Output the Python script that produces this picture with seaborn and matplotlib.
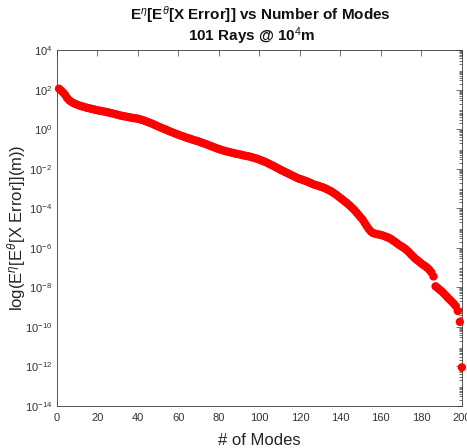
import numpy as np
import pandas as pd
import matplotlib
matplotlib.use("Agg")
import matplotlib.pyplot as plt
import seaborn as sns
from matplotlib.ticker import LogLocator, FixedLocator, NullFormatter

sns.set_style("white")
plt.rcParams['font.family'] = ['Liberation Sans', 'DejaVu Sans']
plt.rcParams['mathtext.fontset'] = 'custom'
plt.rcParams['mathtext.rm'] = 'Liberation Sans'
plt.rcParams['mathtext.it'] = 'Liberation Sans:italic'
plt.rcParams['mathtext.bf'] = 'Liberation Sans:bold'

# ---- data (log10 of error) ----
modes = list(range(1, 201))
log_error = [
    2.05, 1.96, 1.86, 1.74, 1.58, 1.47, 1.39, 1.33, 1.28, 1.24,
    1.20, 1.17, 1.14, 1.11, 1.08, 1.06, 1.03, 1.01, 0.98, 0.96,
    0.94, 0.92, 0.90, 0.88, 0.86, 0.83, 0.81, 0.78, 0.76, 0.73,
    0.70, 0.68, 0.66, 0.64, 0.62, 0.60, 0.58, 0.56, 0.55, 0.53,
    0.50, 0.47, 0.44, 0.40, 0.36, 0.32, 0.28, 0.23, 0.19, 0.14,
    0.10, 0.05, 0.01, -0.03, -0.08, -0.12, -0.16, -0.20, -0.24, -0.28,
    -0.32, -0.35, -0.39, -0.43, -0.46, -0.49, -0.53, -0.56, -0.59, -0.62,
    -0.66, -0.70, -0.73, -0.77, -0.81, -0.85, -0.89, -0.93, -0.97, -1.00,
    -1.04, -1.07, -1.10, -1.13, -1.15, -1.18, -1.20, -1.23, -1.25, -1.27,
    -1.29, -1.32, -1.34, -1.36, -1.38, -1.41, -1.44, -1.47, -1.50, -1.54,
    -1.58, -1.62, -1.66, -1.71, -1.76, -1.81, -1.86, -1.92, -1.97, -2.03,
    -2.08, -2.13, -2.18, -2.23, -2.28, -2.33, -2.38, -2.43, -2.48, -2.52,
    -2.55, -2.59, -2.62, -2.67, -2.71, -2.76, -2.80, -2.83, -2.86, -2.90,
    -2.93, -2.97, -3.02, -3.07, -3.12, -3.18, -3.25, -3.32, -3.40, -3.48,
    -3.56, -3.64, -3.72, -3.81, -3.90, -4.00, -4.10, -4.22, -4.34, -4.46,
    -4.58, -4.74, -4.90, -5.05, -5.17, -5.25, -5.28, -5.31, -5.33, -5.35,
    -5.38, -5.42, -5.46, -5.50, -5.56, -5.63, -5.70, -5.78, -5.85, -5.92,
    -5.98, -6.05, -6.14, -6.24, -6.35, -6.45, -6.55, -6.63, -6.71, -6.80,
    -6.87, -6.94, -7.02, -7.12, -7.25, -7.45, -7.95, -8.03, -8.12, -8.20,
    -8.30, -8.41, -8.52, -8.62, -8.72, -8.83, -8.95, -9.20, -9.75, -12.05,
]
x_ticks = [0, 20, 40, 60, 80, 100, 120, 140, 160, 180, 200]
y_tick_exps = list(range(-14, 5, 2))
title_line1 = "E$^{\\eta}$[E$^{\\theta}$[X Error]] vs Number of Modes"
title_line2 = "101 Rays @ 10$^4$m"

df = pd.DataFrame({"modes": modes, "error": [10.0 ** v for v in log_error]})

fig = plt.figure(figsize=(4.67, 4.48), dpi=100)
ax = fig.add_axes([0.122, 0.094, 0.867, 0.794])

sns.scatterplot(data=df, x="modes", y="error", ax=ax, color="#ff0000",
                s=36, linewidth=0, edgecolor="none", clip_on=False, zorder=3)

ax.set_yscale("log")
ax.set_xlim(0, 200)
ax.set_ylim(1e-14, 1e4)
ax.xaxis.set_major_locator(FixedLocator(x_ticks))
ax.yaxis.set_major_locator(FixedLocator([10.0 ** e for e in y_tick_exps]))
ax.yaxis.set_minor_locator(LogLocator(base=10, subs=np.arange(2, 10), numticks=100))
ax.yaxis.set_minor_formatter(NullFormatter())

axcol = "#3a3a3a"
for sp in ax.spines.values():
    sp.set_visible(True)
    sp.set_color(axcol)
    sp.set_linewidth(0.6)
ax.tick_params(axis="both", which="both", direction="in", top=True, right=True,
               color=axcol, width=0.5, labelcolor="#333333", labelsize=8)
ax.tick_params(axis="both", which="major", length=4)
ax.tick_params(axis="y", which="minor", length=2)
ax.tick_params(axis="x", pad=5)

ax.set_xlabel("# of Modes", fontsize=12, color="#262626")
ax.xaxis.set_label_coords(0.5, -0.075)
ax.set_ylabel(r"log(E$^{\eta}$[E$^{\theta}$[X Error]](m))", fontsize=12, color="#262626")
ax.yaxis.set_label_coords(-0.072, 0.5)
fig.text(260 / 467, 1 - 15 / 448, title_line1, ha="center", va="center",
         fontsize=11, fontweight="bold", color="#111111")
fig.text(252 / 467, 1 - 36 / 448, title_line2, ha="center", va="center",
         fontsize=11, fontweight="bold", color="#111111")
ax.grid(False)

fig.savefig("out.png", dpi=100)
